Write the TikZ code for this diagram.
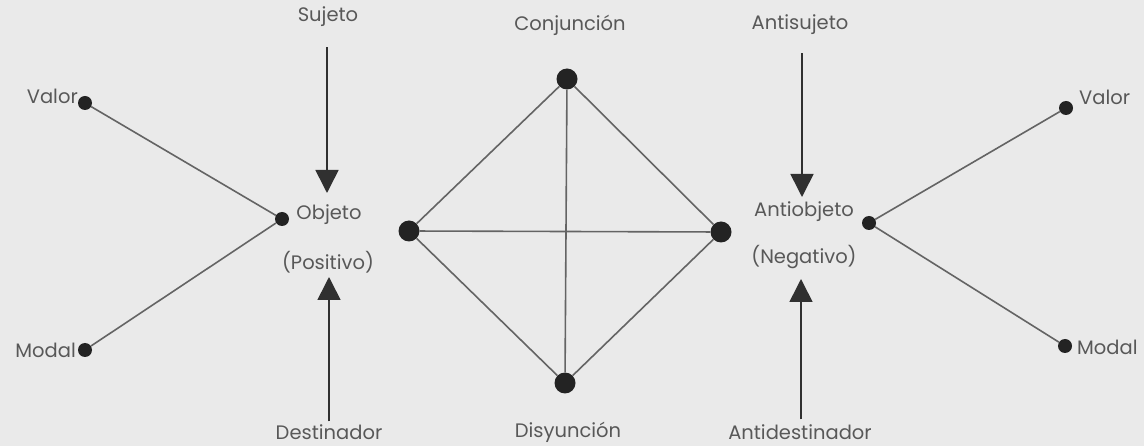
\documentclass[tikz,border=0pt]{standalone}
\usepackage{fontspec}
\setmainfont{Poppins}
\usetikzlibrary{arrows.meta}
\definecolor{bgc}{RGB}{234,234,234}
\definecolor{txt}{RGB}{88,88,88}
\definecolor{lnc}{RGB}{100,100,100}
\definecolor{dotc}{RGB}{35,35,35}
\begin{document}
\begin{tikzpicture}[x=1pt,y=-1pt,
  lbl/.style={text=txt,font=\fontsize{19.5}{22}\selectfont,inner sep=0pt},
  sdot/.style={circle,fill=dotc,inner sep=0pt,minimum size=14pt},
  bdot/.style={circle,fill=dotc,inner sep=0pt,minimum size=21pt},
  ln/.style={draw=lnc,line width=1.6pt},
  arr/.style={draw=dotc!80!lnc,line width=1.6pt,-{Triangle[width=23pt,length=23pt]}}]
\fill[bgc] (0,0) rectangle (1144,446);
\useasboundingbox (0,0) rectangle (1144,446);
% left side
\node[sdot] (lv) at (85,103) {};
\node[sdot] (lm) at (85,350) {};
\node[sdot] (ob) at (282,219) {};
\node[lbl,anchor=east] (lvl) at (78,96) {Valor};
\node[lbl,anchor=east] (lml) at (76,350) {Modal};
\node[lbl] (obl) at (329,215) {Objeto};
\node[lbl] (pos) at (328,262) {(Positivo)};
\node[lbl] (suj) at (328,17) {Sujeto};
\node[lbl] (des) at (329,432) {Destinador};
\coordinate (sujT) at (327,193);
\coordinate (desT) at (329,277);
\draw[ln] (lv) -- (ob);
\draw[ln] (lm) -- (ob);
\draw[arr,shorten <=20pt] (suj.south -| sujT) -- (sujT);
\draw[arr,shorten <=3pt] (des.north -| desT) -- (desT);
% diamond
\node[bdot] (ct) at (567,79) {};
\node[bdot] (cl) at (409,231) {};
\node[bdot] (cr) at (721,232) {};
\node[bdot] (cb) at (565,383) {};
\node[lbl] (conj) at (570,25) {Conjunción};
\node[lbl] (disy) at (568,432) {Disyunción};
\draw[ln] (ct) -- (cr) -- (cb) -- (cl) -- (ct);
\draw[ln] (ct) -- (cb);
\draw[ln] (cl) -- (cr);
% right side
\node[sdot] (ao) at (869,223) {};
\node[sdot] (rv) at (1066,108) {};
\node[sdot] (rm) at (1065,346) {};
\node[lbl,anchor=west] (rvl) at (1079,97) {Valor};
\node[lbl,anchor=west] (rml) at (1077,347) {Modal};
\node[lbl] (aol) at (804,212) {Antiobjeto};
\node[lbl] (neg) at (804,257) {(Negativo)};
\node[lbl] (asu) at (800,25) {Antisujeto};
\node[lbl] (ades) at (800,432) {Antidestinador};
\coordinate (asuT) at (802,197);
\coordinate (adesT) at (801,279);
\draw[ln] (ao) -- (rv);
\draw[ln] (ao) -- (rm);
\draw[arr,shorten <=18pt] (asu.south -| asuT) -- (asuT);
\draw[arr,shorten <=5pt] (ades.north -| adesT) -- (adesT);
\end{tikzpicture}
\end{document}
